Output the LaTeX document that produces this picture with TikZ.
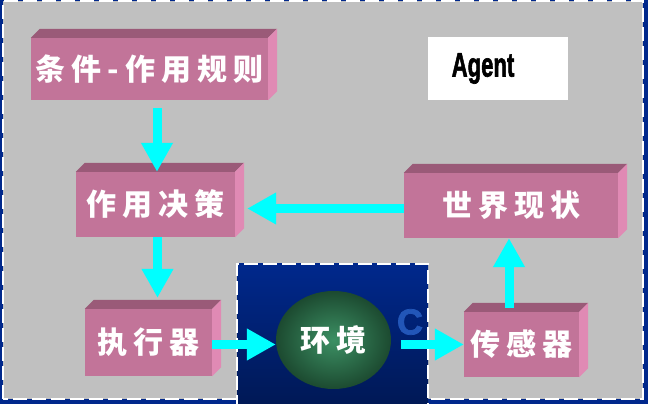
\documentclass[tikz,border=0pt]{standalone}
\usepackage{fontspec}
\usepackage{tikz}
\usetikzlibrary{arrows.meta,shapes.geometric,positioning}
\newfontfamily\cjk[LetterSpace=20]{Noto Sans CJK SC}
\newfontfamily\agentfont[BoldFeatures={FakeBold=2}]{Liberation Sans}
\definecolor{bggray}{HTML}{C0C0C0}
\definecolor{deepblue}{HTML}{00288C}
\definecolor{boxfront}{HTML}{C27499}
\definecolor{boxtopc}{HTML}{9A5A78}
\definecolor{boxsidec}{HTML}{E08AB4}
\definecolor{flowc}{HTML}{00FFFF}
\definecolor{logoblue}{HTML}{2256B8}
\definecolor{envin}{HTML}{3C9064}
\definecolor{envout}{HTML}{1C4A30}
\tikzset{
 blk/.style={fill=boxfront, text=white, inner sep=0pt, font=\cjk\bfseries\fontsize{30}{30}\selectfont},
 flow/.style={draw=flowc, line width=9pt, -{Triangle[width=30pt,length=29pt]}},
 dashline/.style={draw=white, line width=2pt, dash pattern=on 14pt off 5pt},
}

\begin{document}
\begin{tikzpicture}[x=1pt,y=1pt]
\useasboundingbox (0,0) rectangle (648,404);
\fill[deepblue] (0,0) rectangle (648,404);
\fill[bggray] (3,5) rectangle (643,403);
\draw[dashline] (3,5) rectangle (643,403);
% environment panel
\fill[top color=deepblue, bottom color=deepblue!60!black] (237,-5) rectangle (428,140);
\draw[dashline] (237,-5) -- (237,140) -- (428,140) -- (428,-5);
\node[text=logoblue, font=\agentfont\bfseries\fontsize{36}{36}\selectfont] (logo) at (410,82) {C};

\node[blk, minimum width=237pt, minimum height=62pt] (cond) at (149.5,335) {条件-作用规则};
\node[blk, minimum width=159pt, minimum height=65pt] (dec) at (155.5,199.5) {作用决策};
\node[blk, minimum width=214pt, minimum height=65pt] (world) at (511,198.5) {世界现状};
\node[blk, minimum width=127pt, minimum height=67pt] (exec) at (148.5,61.5) {执行器};
\node[blk, minimum width=115pt, minimum height=65pt] (sens) at (521.5,59.5) {传感器};
\foreach \n in {cond,dec,world,exec,sens}{
  \fill[boxtopc] (\n.north west) -- ++(9,9) -- ([shift={(9,9)}]\n.north east) -- (\n.north east) -- cycle;
  \fill[boxsidec] (\n.north east) -- ++(9,9) -- ([shift={(9,9)}]\n.south east) -- (\n.south east) -- cycle;
}
\node[ellipse, inner sep=0pt, minimum width=115pt, minimum height=98pt, inner color=envin, outer color=envout,
  text=white, font=\cjk\bfseries\fontsize{30}{30}\selectfont] (env) at (333.5,64) {环境};

\node[fill=white, minimum width=140pt, minimum height=63pt] (agent) at (498,335.5) {};
\node[font=\agentfont\bfseries\fontsize{34}{34}\selectfont] (agenttxt) at ([xshift=-15pt]agent.center) {\scalebox{0.65}[1]{Agent}};

\draw[flow, shorten <=8pt] ([xshift=7.5pt]cond.south) -- ([xshift=1.5pt]dec.north);
\draw[flow] ([xshift=2pt]dec.south) -- ([xshift=2pt,yshift=11pt]dec.south |- exec.north);
\draw[flow] ([yshift=-3pt]world.west) -- ([xshift=12pt,yshift=-3pt]world.west -| dec.east);
\draw[flow] ([yshift=-2pt]exec.east) -- ([yshift=-2pt]exec.east -| env.west);
\draw[flow, shorten <=10pt] (env.east |- sens.west) -- (sens.west);
\draw[flow] ([xshift=-12.5pt,yshift=4pt]sens.north) -- ([xshift=-12.5pt]sens.north |- world.south);
\end{tikzpicture}
\end{document}
